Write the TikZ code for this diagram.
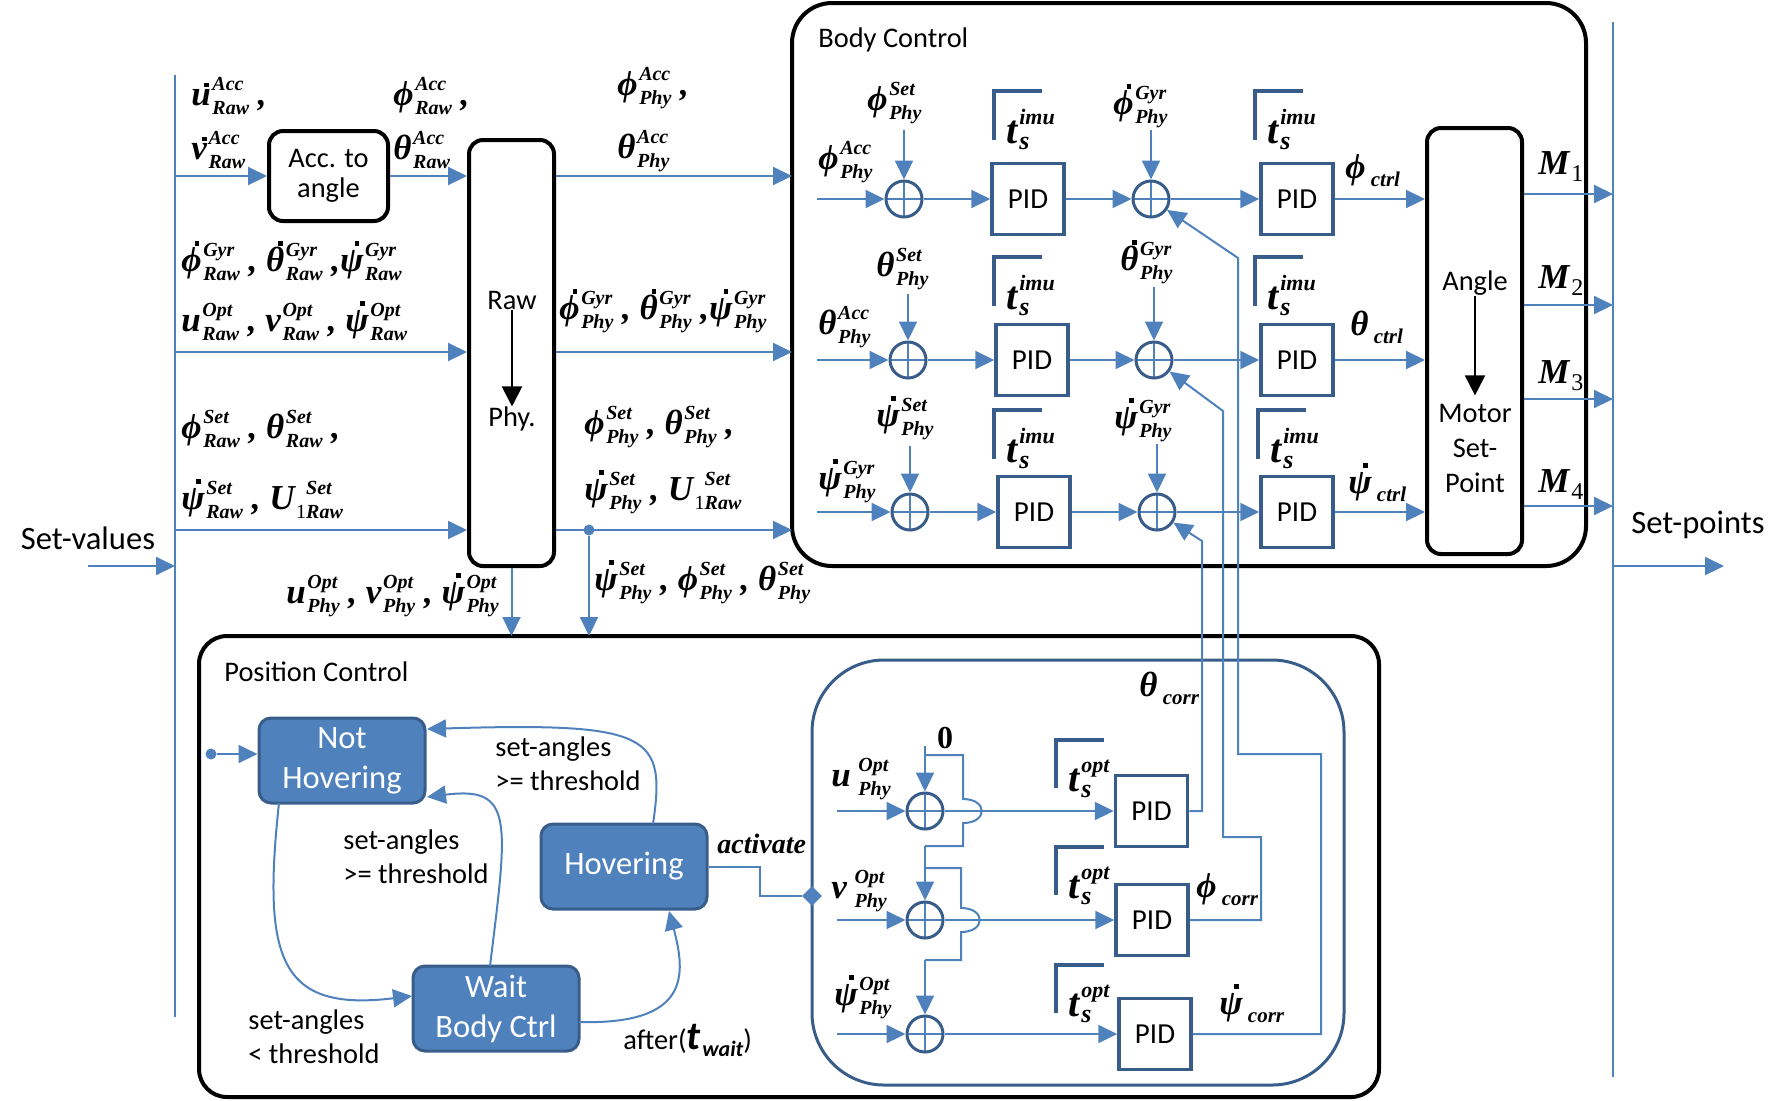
\documentclass[tikz,border=0pt]{standalone}
\usepackage{fontspec}
\setmainfont{Liberation Serif}
\newfontfamily\sansf{Carlito}
\usetikzlibrary{arrows.meta,shapes.geometric}
\definecolor{lb}{RGB}{79,129,189}
\definecolor{db}{RGB}{56,93,138}
\newcommand\mth{\bfseries\itshape\fontsize{17.5}{17.5}\selectfont}
\newcommand\ssx[5]{{\fontsize{#1}{#1}\selectfont\setbox1\hbox{#4}\setbox2\hbox{#5}\dimen0=\wd1 \ifdim\wd2>\dimen0 \dimen0=\wd2 \fi\kern0.08em\rlap{\raise#2\box1}\rlap{\lower#3\box2}\kern\dimen0}}
\newcommand\sps[2]{\ssx{10}{7.5pt}{4.5pt}{#1}{#2}}
\newcommand\dotac[2][0.74em]{\ooalign{#2\cr\hidewidth\kern0.3em\raisebox{#1}{\rule{0.13em}{0.13em}}\hidewidth\cr}}
\newcommand\tsym[1]{{\fontsize{20}{20}\selectfont t}\ssx{11}{9.5pt}{3pt}{#1}{\fontsize{13}{13}\selectfont s}}
\newcommand\ctl[2]{#1\ssx{10.5}{0pt}{4pt}{}{\,#2}}
\newcommand\fy{ϕ}
\begin{document}
\begin{tikzpicture}[x=0.5pt,y=-0.5pt,
  ln/.style={draw=lb,line width=1pt},
  arr/.style={draw=lb,line width=1pt,-{Triangle[length=9.5pt,width=9pt]}},
  blkarr/.style={draw=black,line width=1pt,-{Triangle[length=10pt,width=10pt]}},
  blkbox/.style={draw=black,line width=2pt,rounded corners=7pt,inner sep=0pt},
  pid/.style={draw=db,line width=1.75pt,minimum width=36pt,minimum height=35.5pt,inner sep=0pt,font=\sansf\fontsize{14.5}{14.5}\selectfont},
  sum/.style={circle,draw=db,line width=1.5pt,minimum size=18pt,inner sep=0pt,
    path picture={\draw[lb,line width=0.8pt] (path picture bounding box.north) -- (path picture bounding box.south) (path picture bounding box.west) -- (path picture bounding box.east);}},
  st/.style={fill=lb,draw=db,line width=1.5pt,rounded corners=6pt,minimum width=83pt,minimum height=42.5pt,inner sep=0pt,align=center,text=white,font=\sansf\fontsize{16.3}{20}\selectfont},
  lbl/.style={inner sep=0pt,font=\mth},
  txt/.style={inner sep=0pt,font=\sansf\fontsize{14.2}{17}\selectfont,align=left},
  big/.style={inner sep=0pt,font=\sansf\fontsize{16.3}{16.3}\selectfont},
  brk/.style={draw=db,line width=2.25pt},
  dotn/.style={circle,fill=lb,inner sep=0pt,minimum size=5.5pt}]
\useasboundingbox (0,0) rectangle (1787,1100);
% ---------- frames
\draw[draw=black,line width=2pt,rounded corners=20pt] (792,3) rectangle (1586,566);
\draw[draw=black,line width=2pt,rounded corners=14pt] (199,636) rectangle (1379,1097);
\draw[draw=db,line width=1.5pt,rounded corners=36pt] (812,660) rectangle (1344,1085);
\node[txt,anchor=west] (bct) at (818,40) {Body Control};
\node[txt,anchor=west] (pct) at (224,672) {Position Control};
% ---------- buses
\coordinate (busT) at (175,75); \coordinate (busB) at (175,1017);
\draw[ln] (busT) -- (busB);
\coordinate (rbT) at (1613,22); \coordinate (rbB) at (1613,1077);
\draw[ln] (rbT) -- (rbB);
\node[big] (sv) at (88,538) {Set-values};
\coordinate (sv0) at (88,566); \coordinate (sv1) at (175,566);
\draw[arr] (sv0) -- (sv1);
\node[big] (spt) at (1698,525) {Set-points};
\coordinate (sp0) at (1613,566); \coordinate (sp1) at (1724,566);
\draw[arr] (sp0) -- (sp1);
% ---------- left part
\coordinate (r1) at (175,176); \coordinate (r2) at (175,352); \coordinate (r3) at (175,530);
\coordinate (bw) at (792,0);
\node[blkbox,minimum width=59.5pt,minimum height=45pt,align=center,font=\sansf\fontsize{14.2}{15}\selectfont] (acc) at (328.5,176) {Acc. to\\angle};
\node[blkbox,minimum width=42.5pt,minimum height=213pt] (raw) at (511.5,353) {};
\node[txt] (rawt) at (512,300) {Raw};
\node[txt] (phyt) at (512,419) {Phy.};
\draw[blkarr] (rawt.south) -- (phyt.north);
\draw[arr] (r1) -- (acc);
\draw[arr] (acc) -- (acc -| raw.west);
\draw[arr] (r2) -- (r2 -| raw.west);
\draw[arr] (r3) -- (r3 -| raw.west);
\draw[arr] (r1 -| raw.east) -- (r1 -| bw);
\draw[arr] (r2 -| raw.east) -- (r2 -| bw);
\draw[arr] (r3 -| raw.east) -- (r3 -| bw);
\node[dotn] (j1) at (589,530) {};
\coordinate (pcN) at (0,636);
\draw[arr] (j1) -- (j1 |- pcN);
\draw[arr] (raw.south) -- (raw.south |- pcN);
% labels left
\node[lbl,anchor=west] (l1) at (191,96) {\dotac[0.52em]{u}\sps{Acc}{Raw} ,};
\node[lbl,anchor=west] (l2) at (191,150) {\dotac[0.52em]{v}\sps{Acc}{Raw}};
\node[lbl,anchor=west] (l3) at (393,96) {\fy\sps{Acc}{Raw} ,};
\node[lbl,anchor=west] (l4) at (393,150) {θ\sps{Acc}{Raw}};
\node[lbl,anchor=west] (l5) at (181,262) {\dotac{\fy}\sps{Gyr}{Raw} , \dotac{θ}\sps{Gyr}{Raw} ,\dotac{ψ}\sps{Gyr}{Raw}};
\node[lbl,anchor=west] (l6) at (181,322) {u\sps{Opt}{Raw} , v\sps{Opt}{Raw} , \dotac{ψ}\sps{Opt}{Raw}};
\node[lbl,anchor=west] (l7) at (181,429) {\fy\sps{Set}{Raw} , θ\sps{Set}{Raw} ,};
\node[lbl,anchor=west] (l8) at (181,500) {\dotac{ψ}\sps{Set}{Raw} , U\sps{\kern0.5em Set}{{\upshape\mdseries 1}Raw}};
\node[lbl,anchor=west] (p1) at (617,88) {\fy\sps{Acc}{Phy} ,};
\node[lbl,anchor=west] (p2) at (617,151) {θ\sps{Acc}{Phy}};
\node[lbl,anchor=west] (p3) at (559,312) {\dotac{\fy}\sps{Gyr}{Phy} , \dotac{θ}\sps{Gyr}{Phy} ,\dotac{ψ}\sps{Gyr}{Phy}};
\node[lbl,anchor=west] (p4) at (584,427) {\fy\sps{Set}{Phy} , θ\sps{Set}{Phy} ,};
\node[lbl,anchor=west] (p5) at (584,493) {\dotac{ψ}\sps{Set}{Phy} , U\sps{\kern0.5em Set}{{\upshape\mdseries 1}Raw}};
\node[lbl,anchor=west] (p6) at (286,596) {u\sps{Opt}{Phy} , v\sps{Opt}{Phy} , \dotac{ψ}\sps{Opt}{Phy}};
\node[lbl,anchor=west] (p7) at (594,583) {\dotac{ψ}\sps{Set}{Phy} , \fy\sps{Set}{Phy} , θ\sps{Set}{Phy}};
% ---------- body control
\node[sum] (s11) at (904,199) {}; \node[sum] (s21) at (908,360) {}; \node[sum] (s31) at (910,512) {};
\node[sum] (s12) at (1151,199) {}; \node[sum] (s22) at (1154,360) {}; \node[sum] (s32) at (1157,512) {};
\node[pid] (b11) at (1028,199) {PID}; \node[pid] (b21) at (1032,360) {PID}; \node[pid] (b31) at (1034,512) {PID};
\node[pid] (b12) at (1297,199) {PID}; \node[pid] (b22) at (1297,360) {PID}; \node[pid] (b32) at (1297,512) {PID};
\node[blkbox,minimum width=47.5pt,minimum height=213pt] (ang) at (1474.5,341) {};
\node[txt] (angt) at (1475,283) {Angle};
\node[txt,align=center,font=\sansf\fontsize{14.2}{17.5}\selectfont] (mot) at (1475,448) {Motor\\Set-\\Point};
\draw[blkarr] (angt.south) -- ([yshift=4pt]mot.north);
\coordinate (in1) at (817,199); \coordinate (in2) at (817,360); \coordinate (in3) at (817,512);
\foreach \r in {1,2,3}{
  \draw[arr] (in\r) -- (s\r1);
  \draw[arr] (s\r1) -- (b\r1);
  \draw[arr] (b\r1) -- (s\r2);
  \draw[arr] (s\r2) -- (b\r2);
  \draw[arr] (b\r2) -- (b\r2 -| ang.west);
}
\coordinate (a11) at (904,130); \coordinate (a21) at (908,294); \coordinate (a31) at (910,446);
\coordinate (a12) at (1151,130); \coordinate (a22) at (1154,287); \coordinate (a32) at (1157,444);
\foreach \r in {1,2,3}{\foreach \c in {1,2}{\draw[arr] (a\r\c) -- (s\r\c);}}
\coordinate (m1) at (1613,194); \coordinate (m2) at (1613,305); \coordinate (m3) at (1613,399); \coordinate (m4) at (1613,506);
\foreach \k in {1,2,3,4}{\draw[arr] (m\k -| ang.east) -- (m\k);}
\node[lbl,anchor=west] (mm1) at (1538,167) {M\ssx{12}{0pt}{3.5pt}{}{\upshape\mdseries 1}};
\node[lbl,anchor=west] (mm2) at (1538,281) {M\ssx{12}{0pt}{3.5pt}{}{\upshape\mdseries 2}};
\node[lbl,anchor=west] (mm3) at (1538,376) {M\ssx{12}{0pt}{3.5pt}{}{\upshape\mdseries 3}};
\node[lbl,anchor=west] (mm4) at (1538,485) {M\ssx{12}{0pt}{3.5pt}{}{\upshape\mdseries 4}};
% body labels
\node[lbl,anchor=west] (q1a) at (818,162) {\fy\sps{Acc}{Phy}};
\node[lbl,anchor=west] (q1b) at (867,103) {\fy\sps{Set}{Phy}};
\node[lbl,anchor=west] (q2a) at (818,327) {θ\sps{Acc}{Phy}};
\node[lbl,anchor=west] (q2b) at (876,269) {θ\sps{Set}{Phy}};
\node[lbl,anchor=west] (q3a) at (818,482) {\dotac{ψ}\sps{Gyr}{Phy}};
\node[lbl,anchor=west] (q3b) at (876,419) {\dotac{ψ}\sps{Set}{Phy}};
\node[lbl,anchor=west] (g1) at (1113,107) {\dotac{\fy}\sps{Gyr}{Phy}};
\node[lbl,anchor=west] (g2) at (1120,263) {\dotac{θ}\sps{Gyr}{Phy}};
\node[lbl,anchor=west] (g3) at (1114,421) {\dotac{ψ}\sps{Gyr}{Phy}};
\node[lbl,anchor=west] (c1) at (1345,171) {\ctl{\fy}{ctrl}};
\node[lbl,anchor=west] (c2) at (1350,327) {\ctl{θ}{ctrl}};
\node[lbl,anchor=west] (c3) at (1348,487) {\ctl{\dotac{ψ}}{ctrl}};
% sample-time brackets
\foreach \x/\y/\n in {994/140/a,994/306/b,994/459/c,1255/140/d,1255/306/e,1258/459/f}{
  \draw[brk] (\x,\y) -- (\x,\y-49) -- (\x+48,\y-49);
  \node[lbl,anchor=base west] (ti\n) at (\x+12,\y+3) {\tsym{imu}};
}
% ---------- position control: states
\node[st] (nh) at (342,760.5) {Not\\Hovering};
\node[st] (hv) at (624,866.5) {Hovering};
\node[st] (wb) at (496,1008.5) {Wait\\Body Ctrl};
\node[dotn] (ini) at (211,754) {};
\draw[arr] (ini) -- (ini -| nh.west);
\coordinate (ca0) at (653,824); \coordinate (ca1) at (427,729);
\draw[arr] (ca0) .. controls (666,735) and (652,722) .. (ca1);
\coordinate (cb0) at (490,966); \coordinate (cb1) at (427,797);
\draw[arr] (cb0) .. controls (508,820) and (514,786) .. (cb1);
\coordinate (cc0) at (279,803); \coordinate (cc1) at (412,996);
\draw[arr] (cc0) .. controls (262,960) and (280,1012) .. (cc1);
\coordinate (cd0) at (579,1022); \coordinate (cd1) at (669,911);
\draw[arr] (cd0) .. controls (690,1025) and (686,975) .. (cd1);
\node[txt,anchor=west] (ta) at (495,764) {set-angles\\>= threshold};
\node[txt,anchor=west] (tb) at (343,857) {set-angles\\>= threshold};
\node[txt,anchor=west] (tc) at (248,1037) {set-angles\\< threshold};
\node[txt,anchor=west] (td) at (623,1040) {after({\mth\fontsize{20}{20}\selectfont t}{\mth\ssx{11}{0pt}{3.5pt}{}{wait}})};
\node[lbl,anchor=west,font=\bfseries\itshape\fontsize{14}{14}\selectfont] (act) at (717,844) {activate};
\node[diamond,fill=lb,inner sep=0pt,minimum width=10pt,minimum height=10pt] (dia) at (812,896) {};
\coordinate (hv1) at (760,866.5);
\draw[ln] (hv) -- (hv1) |- (dia);
% ---------- position control: inner loop
\node[sum] (t1) at (925,811) {}; \node[sum] (t2) at (925,920) {}; \node[sum] (t3) at (925,1034) {};
\node[pid] (k1) at (1151.5,811) {PID}; \node[pid] (k2) at (1152,920) {PID}; \node[pid] (k3) at (1155,1034) {PID};
\coordinate (e1) at (837,811); \coordinate (e2) at (837,920); \coordinate (e3) at (837,1034);
\foreach \r in {1,2,3}{\draw[arr] (e\r) -- (t\r); \draw[arr] (t\r) -- (k\r);}
\node[lbl,anchor=west] (u1) at (831,779) {u\sps{\kern0.3em Opt}{\kern0.3em Phy}};
\node[lbl,anchor=west] (u2) at (831,891) {v\sps{\kern0.3em Opt}{\kern0.3em Phy}};
\node[lbl,anchor=west] (u3) at (834,998) {\dotac{ψ}\sps{Opt}{Phy}};
\node[inner sep=0pt,font=\bfseries\fontsize{16}{16}\selectfont] (zero) at (945,738) {0};
\coordinate (z0) at (925,746);
\draw[arr] (z0) -- (t1);
\coordinate (zb1) at (925,755); \coordinate (zb2) at (963,755); \coordinate (zb3) at (963,799);
\coordinate (zb4) at (963,823); \coordinate (zb5) at (963,846); \coordinate (zb6) at (925,846);
\draw[ln] (zb1) -- (zb2) -- (zb3) .. controls (988,799) and (988,823) .. (zb4) -- (zb5) -- (zb6);
\draw[arr] (zb6) -- (t2);
\coordinate (zc1) at (925,868); \coordinate (zc2) at (961,868); \coordinate (zc3) at (961,908);
\coordinate (zc4) at (961,932); \coordinate (zc5) at (961,960); \coordinate (zc6) at (925,960);
\draw[ln] (zc1) -- (zc2) -- (zc3) .. controls (986,908) and (986,932) .. (zc4) -- (zc5) -- (zc6);
\draw[arr] (zc6) -- (t3);
\foreach \y/\n in {788/a,895/b,1013/c}{
  \draw[brk] (1056,\y) -- (1056,\y-48) -- (1104,\y-48);
  \node[lbl,anchor=base west] (to\n) at (1068,\y+3) {\tsym{opt}};
}
% feedback corrections
\coordinate (fa1) at (1202,811); \coordinate (fa2) at (1202,541);
\draw[arr] (k1) -- (fa1) -- (fa2) -- (s32);
\coordinate (fb1) at (1261,920); \coordinate (fb2) at (1261,837); \coordinate (fb3) at (1223,837); \coordinate (fb4) at (1223,411);
\draw[arr] (k2) -- (fb1) -- (fb2) -- (fb3) -- (fb4) -- (s22);
\coordinate (fc1) at (1321,1034); \coordinate (fc2) at (1321,754); \coordinate (fc3) at (1238,754); \coordinate (fc4) at (1238,258);
\draw[arr] (k3) -- (fc1) -- (fc2) -- (fc3) -- (fc4) -- (s12);
\node[lbl,anchor=west] (cr1) at (1139,688) {\ctl{θ}{corr}};
\node[lbl,anchor=west] (cr2) at (1196,890) {\ctl{\fy}{corr}};
\node[lbl,anchor=west] (cr3) at (1219,1008) {\ctl{\dotac{ψ}}{corr}};
\end{tikzpicture}
\end{document}
